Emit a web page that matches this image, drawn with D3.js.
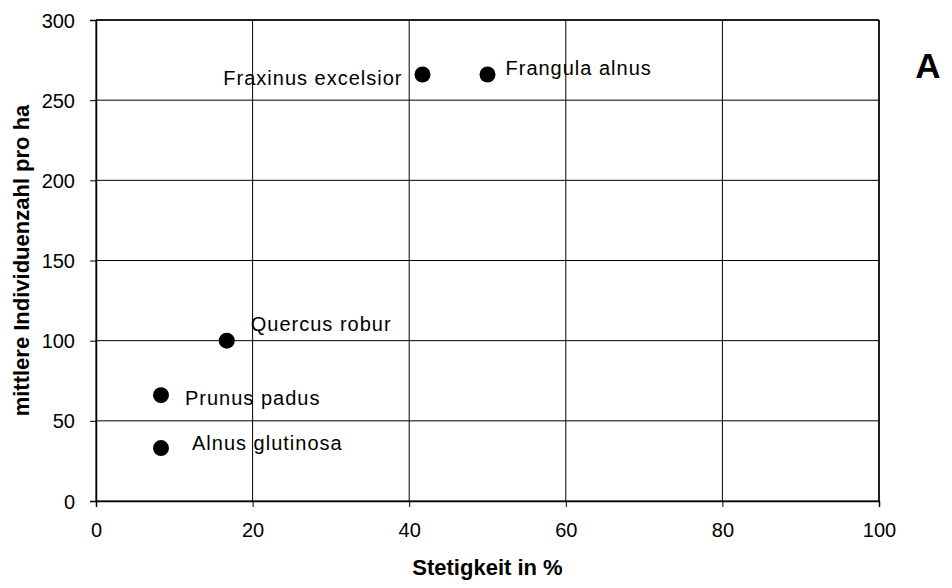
<!DOCTYPE html>
<html>
<head>
<meta charset="utf-8">
<script src="https://cdn.jsdelivr.net/npm/d3@7"></script>
<style>
  body { margin: 0; background: #fff; }
  text { font-family: "Liberation Sans", Arial, sans-serif; fill: #000; }
</style>
</head>
<body>
<script>
var width = 952;
var height = 588;

// data
var species = ["Alnus glutinosa", "Prunus padus", "Quercus robur", "Fraxinus excelsior", "Frangula alnus"];
var stetigkeit = [8.3, 8.3, 16.7, 41.7, 50];
var individuen = [33, 66, 100, 266, 266];
var xTicks = [0, 20, 40, 60, 80, 100];
var yTicks = [0, 50, 100, 150, 200, 250, 300];

// label offset from the dot (dx, dy to baseline, anchor)
var labelPos = [
  [31, 2, "start"],
  [24, 10, "start"],
  [24, -10, "start"],
  [-20, 10, "end"],
  [18, 0, "start"]
];

var svg = d3.select("body")
  .append("svg")
  .attr("width", width)
  .attr("height", height);

var x = d3.scaleLinear().domain([0, 100]).range([96, 879]);
var y = d3.scaleLinear().domain([0, 300]).range([501, 20]);

// grid
svg.append("g")
  .selectAll("line")
  .data(xTicks)
  .enter().append("line")
  .attr("x1", d => x(d)).attr("x2", d => x(d))
  .attr("y1", y(300)).attr("y2", y(0))
  .attr("stroke", "#000").attr("stroke-width", 1);

svg.append("g")
  .selectAll("line")
  .data(yTicks)
  .enter().append("line")
  .attr("x1", x(0)).attr("x2", x(100))
  .attr("y1", d => y(d)).attr("y2", d => y(d))
  .attr("stroke", "#000").attr("stroke-width", 1);

// axes
var xAxis = svg.append("g")
  .attr("transform", "translate(0," + y(0) + ")")
  .call(d3.axisBottom(x).tickValues(xTicks).tickSize(6).tickPadding(16));

var yAxis = svg.append("g")
  .attr("transform", "translate(" + x(0) + ",0)")
  .call(d3.axisLeft(y).tickValues(yTicks).tickSize(6).tickPadding(15));

[xAxis, yAxis].forEach(function(a) {
  a.select(".domain").attr("stroke", "#000").attr("stroke-width", 1.5);
  a.selectAll(".tick line").attr("stroke", "#000");
  a.selectAll(".tick text")
    .style("font-family", "Liberation Sans, Arial, sans-serif")
    .style("font-size", "20px")
    .attr("fill", "#000");
});
yAxis.selectAll(".tick text").attr("dy", "0.35em");

// frame top/right
svg.append("line")
  .attr("x1", x(0)).attr("x2", x(100)).attr("y1", y(300)).attr("y2", y(300))
  .attr("stroke", "#000").attr("stroke-width", 1.5);
svg.append("line")
  .attr("x1", x(100)).attr("x2", x(100)).attr("y1", y(300)).attr("y2", y(0))
  .attr("stroke", "#000").attr("stroke-width", 1.5);

// points
var pts = species.map(function(s, i) {
  return { name: s, sx: stetigkeit[i], iy: individuen[i], lp: labelPos[i] };
});

svg.append("g")
  .selectAll("circle")
  .data(pts)
  .enter().append("circle")
  .attr("cx", d => x(d.sx))
  .attr("cy", d => y(d.iy))
  .attr("r", 8)
  .attr("fill", "#000");

svg.append("g")
  .selectAll("text")
  .data(pts)
  .enter().append("text")
  .attr("x", d => x(d.sx) + d.lp[0])
  .attr("y", d => y(d.iy) + d.lp[1])
  .attr("text-anchor", d => d.lp[2])
  .style("font-size", "20px")
  .style("letter-spacing", "1px")
  .text(d => d.name);

// axis titles
svg.append("text")
  .attr("x", (x(0) + x(100)) / 2)
  .attr("y", 575)
  .attr("text-anchor", "middle")
  .style("font-size", "22px")
  .style("font-weight", "bold")
  .text("Stetigkeit in %");

svg.append("text")
  .attr("transform", "translate(29," + ((y(0) + y(300)) / 2) + ") rotate(-90)")
  .attr("text-anchor", "middle")
  .style("font-size", "22px")
  .style("font-weight", "bold")
  .text("mittlere Individuenzahl pro ha");

// panel letter
svg.append("text")
  .attr("x", 928)
  .attr("y", 78)
  .attr("text-anchor", "middle")
  .style("font-size", "35px")
  .style("font-weight", "bold")
  .text("A");
</script>
</body>
</html>
